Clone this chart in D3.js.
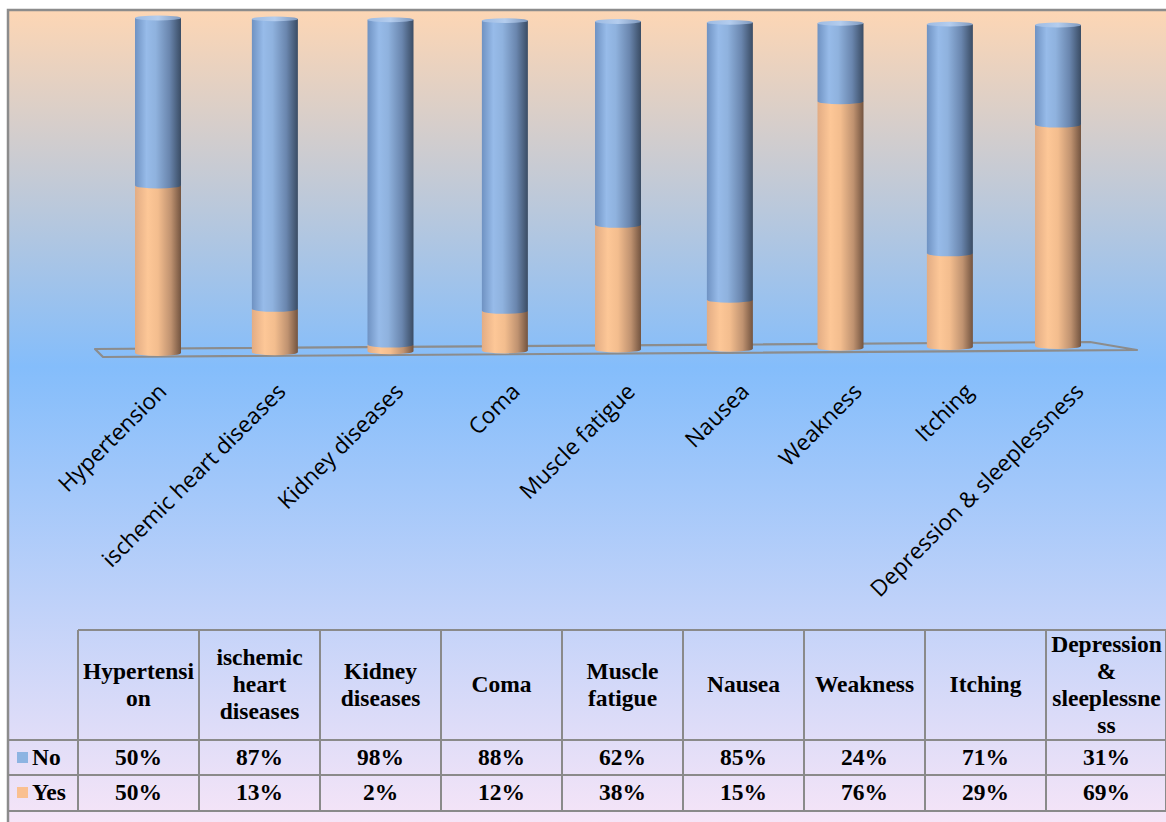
<!DOCTYPE html>
<html><head><meta charset="utf-8">
<script src="https://cdn.jsdelivr.net/npm/d3@7"></script>
<style>html,body{margin:0;padding:0;background:#fff;}svg{display:block;}</style>
</head><body>
<script>
const categories = ["Hypertension","ischemic heart diseases","Kidney diseases","Coma","Muscle fatigue","Nausea","Weakness","Itching","Depression & sleeplessness"];
const headerLines = [["Hypertensi","on"],["ischemic","heart","diseases"],["Kidney","diseases"],["Coma"],["Muscle","fatigue"],["Nausea"],["Weakness"],["Itching"],["Depression","&","sleeplessne","ss"]];
const noValues  = [50,87,98,88,62,85,24,71,31];
const yesValues = [50,13,2,12,38,15,76,29,69];
const seriesNames = ["No","Yes"];

const W = 1166, H = 822;
const svg = d3.select("body").append("svg").attr("width", W).attr("height", H);
const defs = svg.append("defs");

// background gradient
const bg = defs.append("linearGradient").attr("id","bg").attr("x1",0).attr("y1",0).attr("x2",0).attr("y2",1);
bg.append("stop").attr("offset","0%").attr("stop-color","#FDD6B4");
bg.append("stop").attr("offset","43%").attr("stop-color","#84BDFB");
bg.append("stop").attr("offset","100%").attr("stop-color","#FAE6F7");

function cylGrad(id, stops){
  const g = defs.append("linearGradient").attr("id",id).attr("x1",0).attr("y1",0).attr("x2",1).attr("y2",0);
  stops.forEach(s=>g.append("stop").attr("offset",s[0]).attr("stop-color",s[1]));
}
cylGrad("gNo",[["0%","#6F92C2"],["25%","#97BBE9"],["45%","#8FB2DE"],["75%","#6A86AE"],["100%","#3A4C64"]]);
cylGrad("gYes",[["0%","#E2AC84"],["28%","#FDC797"],["50%","#F3BD8E"],["78%","#BF9270"],["100%","#735440"]]);
cylGrad("gNoTop",[["0%","#9DBBE3"],["50%","#B4CDEE"],["100%","#7E98BD"]]);

svg.append("rect").attr("x",0).attr("y",0).attr("width",W).attr("height",H).attr("fill","#fff");
svg.append("rect").attr("x",8).attr("y",10).attr("width",1180).attr("height",830)
  .attr("fill","url(#bg)").attr("stroke","#8C8C8C").attr("stroke-width",2.5);

// scales (slight perspective along the category axis)
const n = categories.length;
const persp = i => i*117.5 - 0.625*i*i;
const xLin = d3.scaleLinear().domain([persp(0), persp(n-1)]).range([158,1058]);
const xC = c => xLin(persp(categories.indexOf(c)));
const idx = d3.scaleLinear().domain([0, n-1]);
const baseY = idx.copy().range([353,346]);
const topY  = idx.copy().range([18,25]);
const labelOff = idx.copy().range([10,27]);

// floor
svg.append("path")
  .attr("d", d3.line()([[95,349],[103,357],[1137,350],[1090,342]]) + "Z")
  .attr("fill","none").attr("stroke","#8C8C8C").attr("stroke-width",2.2).attr("stroke-linejoin","round");

const rx = 23, ry = 3;
function seg(cx, y0, y1){
  return `M${cx-rx},${y1}L${cx-rx},${y0}A${rx},${ry} 0 0 0 ${cx+rx},${y0}L${cx+rx},${y1}Z`;
}
const gBars = svg.append("g");
categories.forEach((c,i)=>{
  const y = d3.scaleLinear().domain([0,100]).range([baseY(i), topY(i)]);
  const cx = xC(c);
  const g = gBars.append("g");
  g.append("path").attr("d", seg(cx, y(0), y(yesValues[i]))).attr("fill","url(#gYes)");
  g.append("path").attr("d", seg(cx, y(yesValues[i]), y(100))).attr("fill","url(#gNo)");
  g.append("ellipse").attr("cx",cx).attr("cy",y(100)).attr("rx",rx).attr("ry",ry*0.8).attr("fill","url(#gNoTop)");
});

// category labels
svg.append("g").selectAll("text").data(categories).join("text")
  .attr("transform",(d,i)=>`translate(${xC(d)+labelOff(i)},393) rotate(-45)`)
  .attr("text-anchor","end")
  .attr("font-family","'Open Sans', sans-serif").attr("font-size",22.5).attr("fill","#000")
  .text(d=>d);

// data table
const colX = d3.scaleBand().domain(categories).range([78,1167]);
const tbl = svg.append("g").attr("stroke","#8A8A8A").attr("stroke-width",2);
tbl.append("line").attr("x1",78).attr("x2",1170).attr("y1",630).attr("y2",630);
[740,775,811].forEach(yv=>tbl.append("line").attr("x1",8).attr("x2",1170).attr("y1",yv).attr("y2",yv));
categories.forEach(c=>{
  tbl.append("line").attr("x1",colX(c)).attr("x2",colX(c)).attr("y1",630).attr("y2",811);
});
tbl.append("line").attr("x1",1166).attr("x2",1166).attr("y1",630).attr("y2",811);

const tf = "'Liberation Serif','Times New Roman',serif";
const th = svg.append("g").attr("font-family",tf).attr("font-weight","bold").attr("font-size",23.5).attr("fill","#000").attr("text-anchor","middle");
categories.forEach((c,i)=>{
  const lines = headerLines[i];
  const cx = colX(c) + colX.bandwidth()/2;
  const b0 = 692 - (lines.length-1)*27/2;
  lines.forEach((ln,k)=>th.append("text").attr("x",cx).attr("y",b0+k*27).text(ln));
  th.append("text").attr("x",cx).attr("y",765).text(noValues[i]+"%");
  th.append("text").attr("x",cx).attr("y",800).text(yesValues[i]+"%");
});
// legend keys
const legColors = ["#8DB4E2","#FAC090"];
const legY = [765,800];
seriesNames.forEach((s,k)=>{
  svg.append("rect").attr("x",17).attr("y",legY[k]-13).attr("width",11).attr("height",11).attr("fill",legColors[k]);
  svg.append("text").attr("x",32).attr("y",legY[k]).attr("font-family",tf).attr("font-weight","bold")
    .attr("font-size",23.5).attr("fill","#000").text(s);
});
</script>
</body></html>
